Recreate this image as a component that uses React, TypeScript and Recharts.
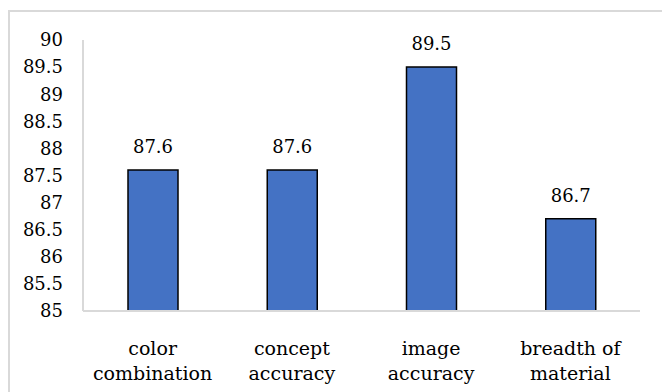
import React from "react";
import { BarChart, Bar, XAxis, YAxis, LabelList } from "recharts";

// Evaluation scores per criterion
const categories: string[][] = [
  ["color", "combination"],
  ["concept", "accuracy"],
  ["image", "accuracy"],
  ["breadth of", "material"],
];
const scores: number[] = [87.6, 87.6, 89.5, 86.7];
const yTicks: number[] = [85, 85.5, 86, 86.5, 87, 87.5, 88, 88.5, 89, 89.5, 90];

const data = categories.map((lines, i) => ({
  name: lines.join(" "),
  lines,
  score: scores[i],
}));

const FONT = "DejaVu Serif";
const AXIS_GRAY = "#d9d9d9";

const CategoryTick = (props: any) => {
  const { x, y, payload, index } = props;
  const lines = data[index]?.lines ?? [String(payload.value)];
  return (
    <g>
      {lines.map((line: string, i: number) => (
        <text
          key={i}
          x={x}
          y={y + 36 + i * 25}
          textAnchor="middle"
          style={{ fontFamily: FONT, fontSize: 19 }}
          fill="#000"
        >
          {line}
        </text>
      ))}
    </g>
  );
};

export default function App() {
  return (
    <div
      style={{
        position: "absolute",
        left: 0,
        top: 0,
        width: 662,
        height: 392,
        overflow: "hidden",
        background: "#fff",
        fontFamily: FONT,
      }}
    >
      <div
        style={{
          position: "absolute",
          left: 8,
          top: 10,
          width: 720,
          height: 420,
          border: `2px solid ${AXIS_GRAY}`,
        }}
      />
      <div style={{ position: "absolute", left: 0, top: 0 }}>
        <BarChart
          width={662}
          height={392}
          data={data}
          margin={{ top: 40, right: 22, bottom: 0, left: 0 }}
          style={{ fontFamily: FONT }}
        >
          <XAxis
            dataKey="name"
            height={81}
            axisLine={{ stroke: AXIS_GRAY, strokeWidth: 2 }}
            tickLine={false}
            tick={<CategoryTick />}
            interval={0}
          />
          <YAxis
            width={83}
            domain={[85, 90]}
            ticks={yTicks}
            interval={0}
            allowDataOverflow
            axisLine={{ stroke: AXIS_GRAY, strokeWidth: 2 }}
            tickLine={false}
            tickSize={0}
            tickMargin={20}
            tick={{ fontSize: 18, fill: "#000", style: { fontFamily: FONT } }}
          />
          <Bar
            dataKey="score"
            fill="#4472C4"
            stroke="#000"
            strokeWidth={1.5}
            barSize={50}
            isAnimationActive={false}
          >
            <LabelList
              dataKey="score"
              position="top"
              offset={17}
              fontSize={18}
              fill="#000"
              style={{ fontFamily: FONT }}
            />
          </Bar>
        </BarChart>
      </div>
    </div>
  );
}
